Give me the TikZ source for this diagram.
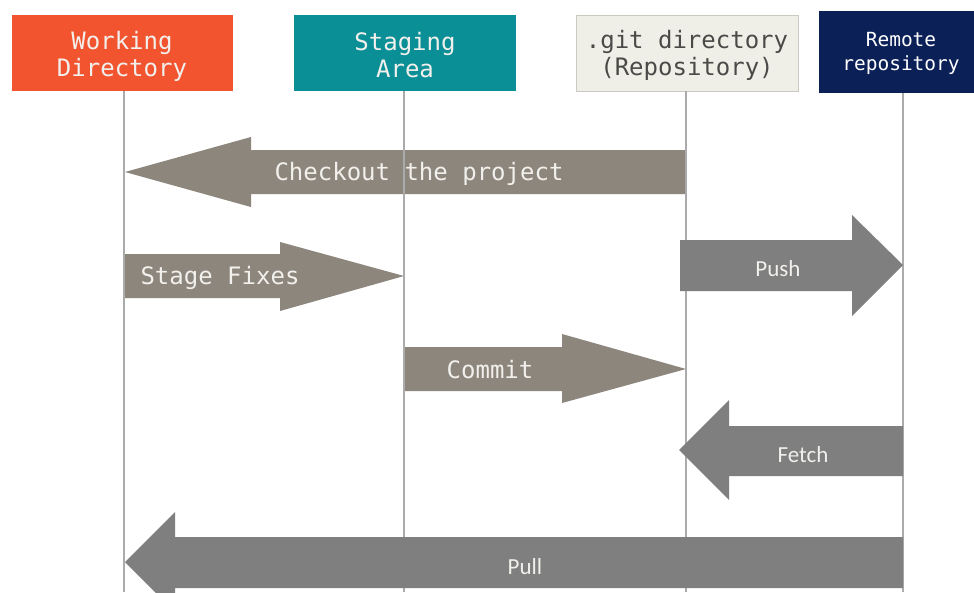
\documentclass[tikz,border=0pt]{standalone}
\usepackage{fontspec}
\setmainfont{DejaVu Sans}
\newfontfamily\monofont{DejaVu Sans Mono}
\newfontfamily\labelfont{Carlito}
\definecolor{gitorange}{HTML}{F35430}
\definecolor{gitteal}{HTML}{0A8F96}
\definecolor{gitpaper}{HTML}{F0EFE7}
\definecolor{gitpaperline}{HTML}{CACAC2}
\definecolor{gitnavy}{HTML}{0B2057}
\definecolor{lifeline}{HTML}{ABABAB}
\definecolor{warmgray}{HTML}{8C867D}
\definecolor{darkgray}{HTML}{7F7F7F}
\definecolor{lighttext}{HTML}{F2F0EC}
\definecolor{gittext}{HTML}{4A4A48}
\begin{document}
\begin{tikzpicture}[x=1pt,y=-1pt,
  headtext/.style={font=\monofont\fontsize{24}{28}\selectfont,align=center},
  life/.style={draw=lifeline,line width=1.8pt},
  warmarrow/.style={fill=warmgray},
  darkarrow/.style={fill=darkgray},
  monolabel/.style={font=\monofont\fontsize{24}{28}\selectfont,text=lighttext,inner sep=0pt},
  sanslabel/.style={font=\labelfont\fontsize{23}{27}\selectfont,text=lighttext,inner sep=0pt}]
\clip (0,0) rectangle (974,592);
\fill[white] (0,0) rectangle (974,592);

% header boxes
\fill[gitorange] (12,15) rectangle (233,91);
\fill[gitteal] (294,15) rectangle (516,91);
\filldraw[fill=gitpaper,draw=gitpaperline,line width=1pt] (576,15) rectangle (798,91);
\fill[gitnavy] (819,11) rectangle (980,93);

\node[headtext,text=lighttext] (wd) at (122,56) {Working\\[-1pt]Directory};
\node[headtext,text=lighttext] (sa) at (405,55) {Staging\\[-1pt]Area};
\node[headtext,text=gittext] (gd) at (687,55) {.git directory\\[-1pt](Repository)};
\node[font=\monofont\fontsize{19.5}{24}\selectfont,text=white,align=center] (rr) at (901,53) {Remote\\repository};

\coordinate (wdtop) at (124,91);
\coordinate (satop) at (404,91);
\coordinate (gdtop) at (686,91);
\coordinate (rrtop) at (903,93);
\coordinate (wdbot) at (124,592);
\coordinate (sabot) at (404,592);
\coordinate (gdbot) at (686,592);
\coordinate (rrbot) at (903,592);

% warm gray arrows (below lifelines)
\fill[warmarrow] (125,172) -- (251,137) -- (251,150) -- (686,150) -- (686,194) -- (251,194) -- (251,207) -- cycle;
\fill[warmarrow] (124,254) -- (280,254) -- (280,242) -- (404,276) -- (280,311) -- (280,298) -- (124,298) -- cycle;
\fill[warmarrow] (404,347) -- (562,347) -- (562,334) -- (686,369) -- (562,403) -- (562,391) -- (404,391) -- cycle;

% lifelines
\draw[life] (wdtop) -- (wdbot);
\draw[life] (satop) -- (sabot);
\draw[life] (gdtop) -- (gdbot);
\draw[life] (rrtop) -- (rrbot);

% dark gray arrows (above lifelines)
\fill[darkarrow] (680,240) -- (852,240) -- (852,215) -- (903,265) -- (852,316) -- (852,291) -- (680,291) -- cycle;
\fill[darkarrow] (679,450) -- (729,400) -- (729,426) -- (903,426) -- (903,476) -- (729,476) -- (729,500) -- cycle;
\fill[darkarrow] (125,562) -- (175,512) -- (175,537) -- (903,537) -- (903,588) -- (175,588) -- (175,612) -- cycle;

% labels
\node[monolabel] (co) at (419,174) {Checkout the project};
\node[monolabel] (sf) at (220,278) {Stage Fixes};
\node[monolabel] (cm) at (490,370) {Commit};
\node[sanslabel] (ps) at (778,269) {Push};
\node[sanslabel] (fe) at (803,455) {Fetch};
\node[sanslabel] (pl) at (525,567) {Pull};
\end{tikzpicture}
\end{document}
